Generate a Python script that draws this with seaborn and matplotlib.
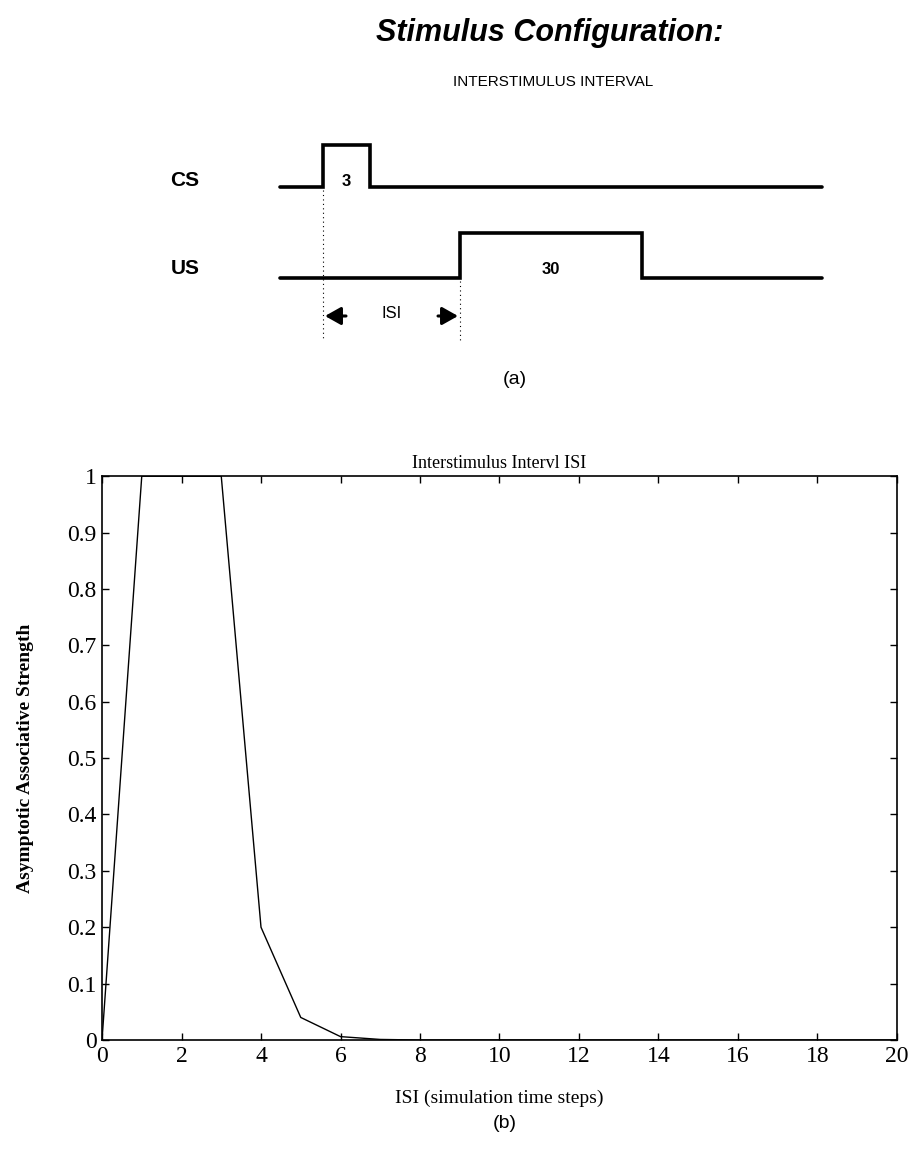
"""Stimulus configuration schematic (a) and ISI curve (b)."""

import matplotlib
matplotlib.use("Agg")
import matplotlib.pyplot as plt
import numpy as np
import pandas as pd
import seaborn as sns

# --- data -----------------------------------------------------------------
isi_steps = list(range(0, 21))
assoc_strength = [0.0, 1.0, 1.0, 1.0, 0.2, 0.04, 0.006, 0.001, 0.0, 0.0,
                  0.0, 0.0, 0.0, 0.0, 0.0, 0.0, 0.0, 0.0, 0.0, 0.0, 0.0]
x_ticks = list(range(0, 21, 2))
y_ticks = [0, 0.1, 0.2, 0.3, 0.4, 0.5, 0.6, 0.7, 0.8, 0.9, 1]
y_tick_labels = ["0", "0.1", "0.2", "0.3", "0.4", "0.5", "0.6", "0.7", "0.8", "0.9", "1"]

# schematic timeline (page units of panel a)
cs_x = [280, 323, 323, 370, 370, 822]
cs_y = [187, 187, 145, 145, 187, 187]
us_x = [280, 460, 460, 642, 642, 822]
us_y = [278, 278, 233, 233, 278, 278]
cs_duration = "3"
us_duration = "30"

sns.set_theme(style="ticks")
plt.rcParams["font.family"] = ["Liberation Sans", "DejaVu Sans"]
plt.rcParams["text.color"] = "black"
plt.rcParams["axes.labelcolor"] = "black"
plt.rcParams["xtick.color"] = "black"
plt.rcParams["ytick.color"] = "black"

fig = plt.figure(figsize=(9.1, 11.53), dpi=100)

# --- panel (a): schematic drawn in pixel-like coordinates ----------------
axa = fig.add_axes([0, 0, 1, 1])
axa.set_xlim(0, 910)
axa.set_ylim(1153, 0)
axa.axis("off")
axa.patch.set_alpha(0)

sans = ["Liberation Sans", "DejaVu Sans"]
axa.text(550, 33, "Stimulus Configuration:", ha="center", va="center",
         fontsize=22, fontweight="bold", fontstyle="italic", family=sans)
axa.text(553, 82, "INTERSTIMULUS INTERVAL", ha="center", va="center",
         fontsize=11, family=sans)

axa.plot(cs_x, cs_y, color="black", lw=2.6, solid_joinstyle="miter")
axa.plot(us_x, us_y, color="black", lw=2.6, solid_joinstyle="miter")
axa.text(185, 180, "CS", ha="center", va="center", fontsize=15, fontweight="bold", family=sans)
axa.text(185, 268, "US", ha="center", va="center", fontsize=15, fontweight="bold", family=sans)
axa.text((cs_x[1] + cs_x[3]) / 2, 181, cs_duration, ha="center", va="center",
         fontsize=12, fontweight="bold", family=sans)
axa.text((us_x[1] + us_x[3]) / 2, 270, us_duration, ha="center", va="center",
         fontsize=12, fontweight="bold", family=sans)

axa.plot([cs_x[1], cs_x[1]], [cs_y[0] + 3, 340], color="black", lw=0.8, ls=(0, (1, 3)))
axa.plot([us_x[1], us_x[1]], [us_y[0] + 3, 340], color="black", lw=0.8, ls=(0, (1, 3)))
arrow_style = dict(arrowstyle="-|>,head_length=0.8,head_width=0.45",
                   color="black", lw=2.2, shrinkA=0, shrinkB=0)
axa.annotate("", xy=(cs_x[1] + 2, 316), xytext=(346, 316), arrowprops=arrow_style)
axa.annotate("", xy=(us_x[1] - 2, 316), xytext=(438, 316), arrowprops=arrow_style)
axa.text(392, 313, "ISI", ha="center", va="center", fontsize=12, family=sans)
axa.text(515, 380, "(a)", ha="center", va="center", fontsize=14, family=sans)
axa.text(505, 1123, "(b)", ha="center", va="center", fontsize=14, family=sans)

# --- panel (b): ISI curve -------------------------------------------------
serif = ["Liberation Serif", "DejaVu Serif"]
ax = fig.add_axes([0.1121, 0.098, 0.8736, 0.489])
df = pd.DataFrame({"isi": isi_steps, "strength": assoc_strength})
sns.lineplot(data=df, x="isi", y="strength", ax=ax, color="black", lw=1.0)

ax.set_xlim(0, 20)
ax.set_ylim(0, 1)
ax.set_xticks(x_ticks)
ax.set_xticklabels([str(t) for t in x_ticks], family=serif, fontsize=17)
ax.set_yticks(y_ticks)
ax.set_yticklabels(y_tick_labels, family=serif, fontsize=17)
ax.tick_params(direction="in", length=5, width=1, top=True, right=True, pad=4)
for sp in ax.spines.values():
    sp.set_visible(True)
    sp.set_linewidth(1.2)
    sp.set_color("black")

ax.set_title("Interstimulus Intervl ISI", family=serif, fontsize=13, pad=6)
ax.set_xlabel("ISI (simulation time steps)", family=serif, fontsize=14, labelpad=17)
ax.set_ylabel("Asymptotic Associative Strength", family=serif, fontsize=14,
              fontweight="bold", labelpad=24)

fig.savefig("out.png", dpi=100)
